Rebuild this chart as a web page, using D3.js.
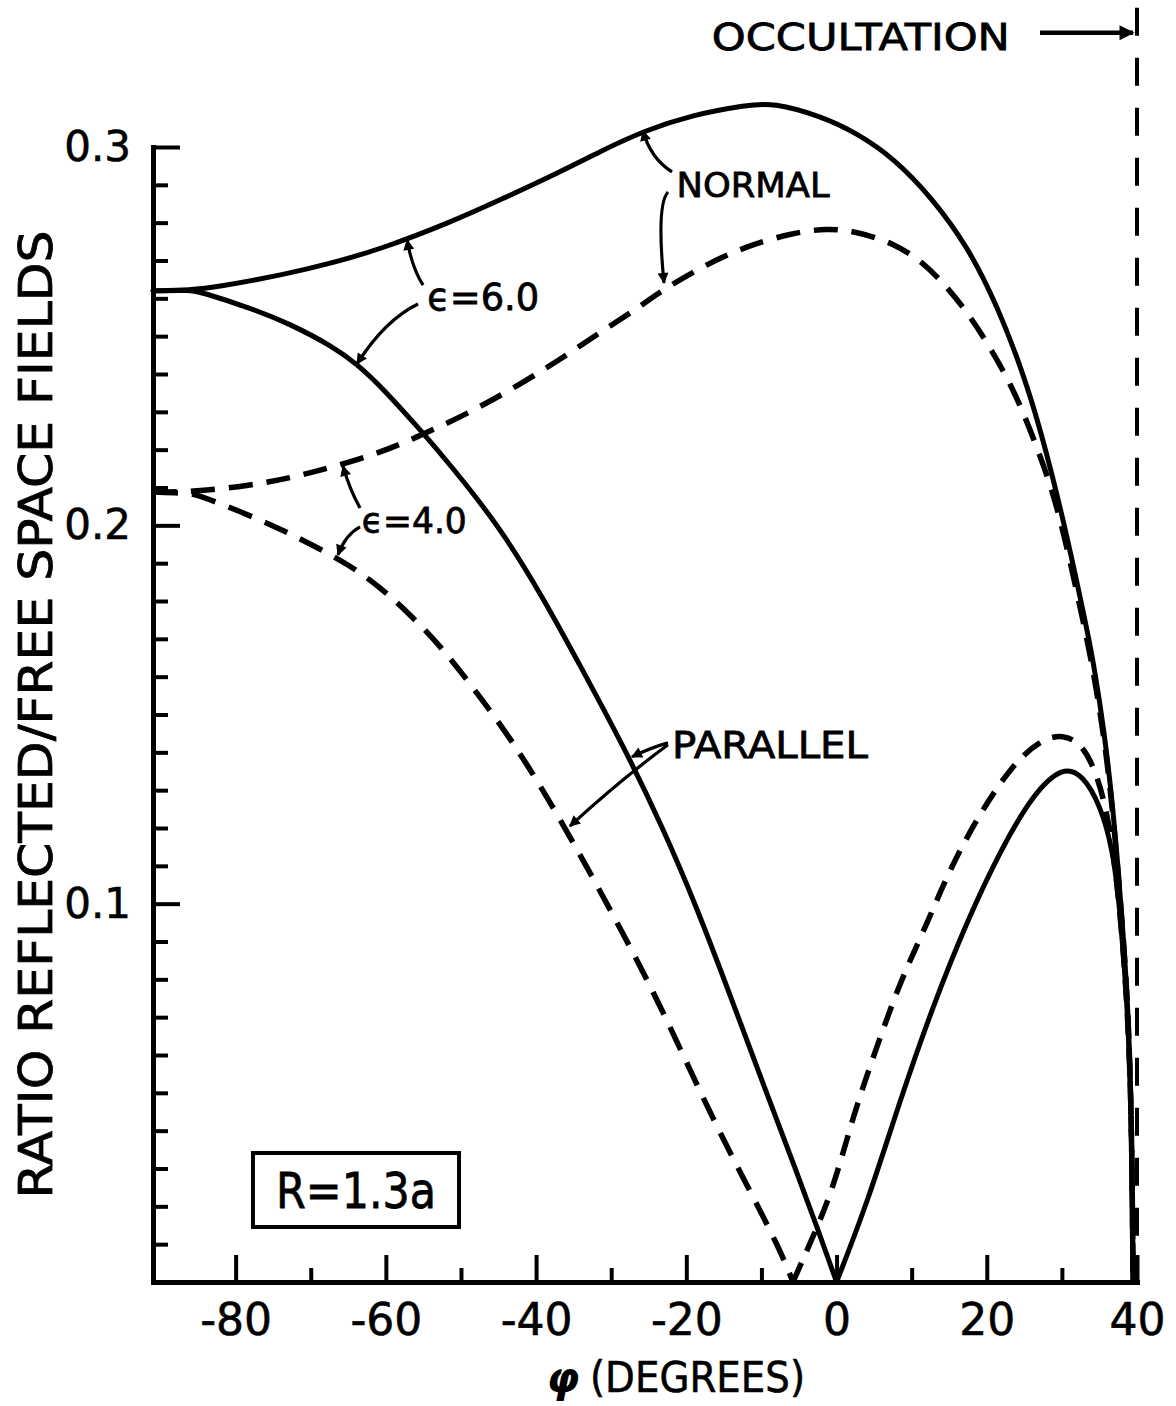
<!DOCTYPE html>
<html>
<head>
<meta charset="utf-8">
<script src="https://cdn.jsdelivr.net/npm/d3@7"></script>
<style>
  body { margin: 0; background: #fff; }
  svg { display: block; }
  text { font-family: "DejaVu Sans", "Noto Sans", sans-serif; fill: #000; }
</style>
</head>
<body>
<script>
// ---------------- DATA (phi in degrees, ratio reflected / free-space field) ----------------
// NORMAL polarisation, epsilon = 6.0 (solid)
const normalEps6 = [
  [-91,0.2620],[-86,0.2622],[-82.5,0.2630],[-73.7,0.2662],[-67.0,0.2694],[-60.4,0.2732],[-51.5,0.2800],
  [-44.8,0.2860],[-36.8,0.2934],[-31.5,0.2988],[-25.6,0.3043],[-19.2,0.3085],[-11.9,0.3111],
  [-8.5,0.3117],[-2.1,0.3082],[2.7,0.3037],[7.65,0.2970],[12.6,0.2868],[17.5,0.2736],
  [21.4,0.2580],[24.8,0.2405],[27.2,0.2250],[30.15,0.2020],[32.8,0.1776],[34.0,0.1660],
  [35.1,0.1525],[36.0,0.1395],[36.8,0.1250],[37.5,0.1090],[38.1,0.0935],[38.8,0.0730],
  [39.2,0.0480],[39.4,0.0200],[39.47,0]
];
// NORMAL polarisation, epsilon = 4.0 (dashed)
const normalEps4 = [
  [-91,0.2088],[-86.1,0.2088],[-78.1,0.2105],[-72.8,0.2125],[-67.4,0.2152],[-61.2,0.2189],
  [-56.4,0.2228],[-49.2,0.2294],[-42.5,0.2368],[-35.9,0.2450],[-31.5,0.2510],[-26.6,0.2572],
  [-23.0,0.2625],[-16.85,0.2695],[-11.9,0.2738],[-6.1,0.2772],[-1.1,0.2786],[2.7,0.2776],
  [7.65,0.2746],[11.6,0.2694],[14.6,0.2632],[17.5,0.2561],[20.4,0.2472],[23.4,0.2366],
  [25.75,0.2255],[28.3,0.2120],[30.15,0.1990],[32.8,0.1750],[34.0,0.1635],[35.1,0.1505],
  [36.0,0.1380],[36.8,0.1235],[37.5,0.1080],[38.1,0.0930],[38.8,0.0730],[39.2,0.0480],
  [39.4,0.0200],[39.47,0]
];
// PARALLEL polarisation, epsilon = 6.0 (solid) : branch before and after the zero
const parallelEps6Left = [
  [-91,0.2620],[-86,0.2622],[-84.7,0.2617],[-78.1,0.2575],[-72.8,0.2533],[-67.0,0.2472],[-63.8,0.2426],
  [-60.4,0.2362],[-55.85,0.2262],[-51.5,0.2162],[-44.8,0.1995],[-39.1,0.1810],[-34.15,0.1630],
  [-28.4,0.1418],[-23.1,0.1200],[-18.6,0.0990],[-14.2,0.0760],[-9.8,0.0525],[-5.3,0.0290],
  [-2.5,0.0140],[0,0]
];
const parallelEps6Right = [
  [0,0],[4.05,0.0206],[8.45,0.0480],[12.8,0.0728],[17.4,0.0955],[21.8,0.1140],[26.15,0.1290],
  [30.15,0.1364],[32.8,0.1340],[35.1,0.1261],[36.8,0.1142],[37.7,0.0991],[38.7,0.0743],
  [39.3,0.0444],[39.47,0]
];
// PARALLEL polarisation, epsilon = 4.0 (dashed)
const parallelEps4Left = [
  [-91,0.2088],[-86,0.2085],[-84.7,0.2078],[-76.8,0.2016],[-71.4,0.1965],[-64.8,0.1896],[-60.4,0.1830],
  [-57.2,0.1772],[-52.8,0.1684],[-47.5,0.1548],[-43.1,0.1428],[-38.55,0.1283],[-34.15,0.1130],
  [-29.8,0.0972],[-25.2,0.0800],[-20.8,0.0617],[-16.45,0.0430],[-11.9,0.0255],[-7.5,0.0085],
  [-5.8,0]
];
const parallelEps4Right = [
  [-5.8,0],[-3.9,0.0085],[-0.5,0.0240],[2.2,0.0440],[5.4,0.0624],[8.45,0.0793],[12.0,0.0945],
  [15.1,0.1092],[19.1,0.1240],[23.5,0.1369],[27.1,0.1432],[30.15,0.1449],[32.8,0.1420],
  [34.7,0.1340],[36.0,0.1240],[36.8,0.1142],[37.7,0.0991],[38.7,0.0743],[39.3,0.0444],[39.47,0]
];

// ticks
const xMajorTicks = [-80, -60, -40, -20, 0, 20, 40];
const xMinorTicks = [-70, -50, -30, -10, 10, 30];
const yMajorTicks = [0.1, 0.2, 0.3];
const yMinorTicks = d3.range(1, 30).filter(i => i % 10 !== 0).map(i => i / 100);

const occultationAngle = 40;
const xLabel = "(DEGREES)";
const xLabelSymbol = "φ";
const yLabel = "RATIO REFLECTED/FREE SPACE FIELDS";

// ---------------- LAYOUT ----------------
const W = 1176, H = 1406;
const svg = d3.select("body").append("svg").attr("width", W).attr("height", H);

const x = d3.scaleLinear().domain([-91, 40]).range([153, 1137]);
const y = d3.scaleLinear().domain([0, 0.3]).range([1282, 147]);

// arrow markers
const defs = svg.append("defs");
defs.append("marker")
  .attr("id", "ah").attr("viewBox", "0 0 10 10")
  .attr("refX", 9).attr("refY", 5)
  .attr("markerWidth", 17).attr("markerHeight", 11)
  .attr("markerUnits", "userSpaceOnUse").attr("orient", "auto")
  .append("path").attr("d", "M0,0L10,5L0,10Z").attr("fill", "#000");
defs.append("marker")
  .attr("id", "ahBig").attr("viewBox", "0 0 10 10")
  .attr("refX", 9).attr("refY", 5)
  .attr("markerWidth", 24).attr("markerHeight", 15)
  .attr("markerUnits", "userSpaceOnUse").attr("orient", "auto")
  .append("path").attr("d", "M0,0L10,5L0,10Z").attr("fill", "#000");

// ---------------- AXES ----------------
const gx = svg.append("g").attr("transform", `translate(0,${y(0)})`)
  .call(d3.axisBottom(x).tickValues(xMajorTicks).tickSize(-27).tickSizeOuter(0)
        .tickPadding(22).tickFormat(d => String(d)));
const gxm = svg.append("g").attr("transform", `translate(0,${y(0)})`)
  .call(d3.axisBottom(x).tickValues(xMinorTicks).tickSize(-14).tickSizeOuter(0).tickFormat(""));
gxm.select(".domain").remove();

const gy = svg.append("g").attr("transform", `translate(${x(-91)},0)`)
  .call(d3.axisLeft(y).tickValues(yMajorTicks).tickSize(-27).tickSizeOuter(0)
        .tickPadding(22).tickFormat(d3.format(".1f")));
const gym = svg.append("g").attr("transform", `translate(${x(-91)},0)`)
  .call(d3.axisLeft(y).tickValues(yMinorTicks).tickSize(-15).tickSizeOuter(0).tickFormat(""));
gym.select(".domain").remove();

svg.selectAll(".domain").attr("stroke", "#000").attr("stroke-width", 5).attr("stroke-linecap", "square");
svg.selectAll(".tick line").attr("stroke", "#000").attr("stroke-width", 4);
gx.selectAll(".tick text").attr("font-size", 44).attr("font-family", "DejaVu Sans")
  .attr("fill", "#000").attr("stroke", "#000").attr("stroke-width", 0.6);
gy.selectAll(".tick text").attr("font-size", 42).attr("font-family", "DejaVu Sans")
  .attr("fill", "#000").attr("stroke", "#000").attr("stroke-width", 0.6);

// axis titles
svg.append("text")
  .attr("transform", `translate(52,${(y(0) + y(0.3)) / 2}) rotate(-90)`)
  .attr("text-anchor", "middle").attr("font-size", 46)
  .attr("stroke", "#000").attr("stroke-width", 0.8)
  .attr("textLength", 968).attr("lengthAdjust", "spacingAndGlyphs")
  .text(yLabel);

svg.append("text")
  .attr("x", 563).attr("y", 1392).attr("text-anchor", "middle").attr("font-size", 42)
  .attr("font-style", "italic").attr("font-weight", "bold")
  .text(xLabelSymbol);
svg.append("text")
  .attr("x", 590).attr("y", 1392).attr("font-size", 42)
  .attr("stroke", "#000").attr("stroke-width", 0.6)
  .attr("textLength", 215).attr("lengthAdjust", "spacingAndGlyphs")
  .text(xLabel);

// ---------------- CURVES ----------------
const line = d3.line().x(d => x(d[0])).y(d => y(d[1])).curve(d3.curveBasis);
const curves = [
  { data: normalEps6, dash: null },
  { data: parallelEps6Left, dash: null },
  { data: parallelEps6Right, dash: null },
  { data: normalEps4, dash: "24,14" },
  { data: parallelEps4Left, dash: "25,14" },
  { data: parallelEps4Right, dash: "21,13" }
];
svg.append("g").selectAll("path").data(curves).join("path")
  .attr("d", d => line(d.data))
  .attr("fill", "none").attr("stroke", "#000")
  .attr("stroke-width", d => d.dash ? 5.5 : 5)
  .attr("stroke-dasharray", d => d.dash)
  .attr("stroke-linejoin", "round").attr("stroke-linecap", d => d.dash ? "butt" : "round");

// occultation line
svg.append("line")
  .attr("x1", x(occultationAngle)).attr("x2", x(occultationAngle))
  .attr("y1", y(0.3368)).attr("y2", y(0))
  .attr("stroke", "#000").attr("stroke-width", 4).attr("stroke-dasharray", "28,22");

// ---------------- ANNOTATIONS (data coordinates) ----------------
const labels = [
  { t: "OCCULTATION", at: [-16.6, 0.3257], size: 38, len: 298 },
  { t: "NORMAL", at: [-21.3, 0.2868], size: 34, len: 153 },
  { t: "PARALLEL", at: [-21.9, 0.1385], size: 38, len: 196 },
  { t: "ϵ=6.0", at: [-54.5, 0.2569], size: 38, len: 112 },
  { t: "ϵ=4.0", at: [-63.2, 0.1980], size: 36, len: 105 },
  { t: "R=1.3a", at: [-63.97, 0.0196], size: 50, len: 160, anchor: "middle" }
];
svg.append("g").selectAll("text").data(labels).join("text")
  .attr("x", d => x(d.at[0])).attr("y", d => y(d.at[1]))
  .attr("text-anchor", d => d.anchor || "start")
  .attr("font-size", d => d.size)
  .attr("textLength", d => d.len).attr("lengthAdjust", "spacingAndGlyphs")
  .attr("stroke", "#000").attr("stroke-width", 0.8)
  .text(d => d.t);

// R = 1.3a box
svg.append("rect")
  .attr("x", x(-77.69)).attr("y", y(0.0341))
  .attr("width", x(-50.26) - x(-77.69)).attr("height", y(0.01454) - y(0.0341))
  .attr("fill", "none").attr("stroke", "#000").attr("stroke-width", 4);

const arrows = [
  { from: [-21.9, 0.2934], ctrl: [-24.8, 0.2971], to: [-25.77, 0.3043] },
  { from: [-22.44, 0.2881], ctrl: [-24.0, 0.2847], to: [-22.97, 0.2641] },
  { from: [-55.05, 0.2635], ctrl: [-56.5, 0.2680], to: [-57.18, 0.2754] },
  { from: [-55.72, 0.2585], ctrl: [-60.1, 0.2543], to: [-63.84, 0.2427] },
  { from: [-63.44, 0.2046], ctrl: [-64.8, 0.2094], to: [-65.71, 0.2157] },
  { from: [-63.44, 0.1996], ctrl: [-65.4, 0.1975], to: [-66.37, 0.1922] },
  { from: [-22.44, 0.1425], ctrl: [-24.8, 0.1412], to: [-27.23, 0.1388] },
  { from: [-22.44, 0.1420], ctrl: [-28.8, 0.1327], to: [-35.49, 0.1205] }
];
svg.append("g").selectAll("path").data(arrows).join("path")
  .attr("d", d => `M${x(d.from[0])},${y(d.from[1])}Q${x(d.ctrl[0])},${y(d.ctrl[1])} ${x(d.to[0])},${y(d.to[1])}`)
  .attr("fill", "none").attr("stroke", "#000").attr("stroke-width", 3.2)
  .attr("marker-end", "url(#ah)");

// occultation arrow
svg.append("line")
  .attr("x1", x(27.09)).attr("y1", y(0.3302)).attr("x2", x(39.47)).attr("y2", y(0.3302))
  .attr("stroke", "#000").attr("stroke-width", 4.5).attr("marker-end", "url(#ahBig)");
</script>
</body>
</html>
